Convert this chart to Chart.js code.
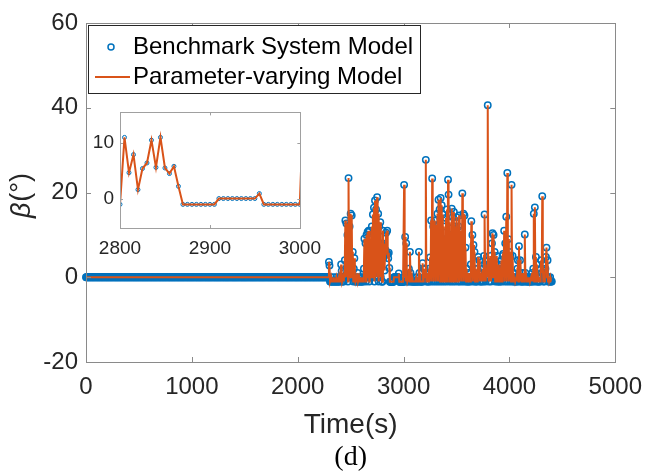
<!DOCTYPE html>
<html>
<head>
<meta charset="utf-8">
<script src="https://cdn.jsdelivr.net/npm/chart.js@4.4.1/dist/chart.umd.min.js"></script>
<style>
  html, body { margin: 0; padding: 0; background: #fff; }
  #wrap { position: relative; width: 653px; height: 472px; }
  #mainChart { position: absolute; left: 0; top: 0; }
  #insetChart { position: absolute; left: 60px; top: 95px; }
</style>
</head>
<body>
<div id="wrap">
  <canvas id="mainChart" width="653" height="472"></canvas>
  <canvas id="insetChart" width="270" height="170"></canvas>
</div>
<script>
// --- Data (beta in degrees, sampled every 5 s) ---

const SAMPLE_STEP = 5;
// quiet stretch at the start: beta stays at 0
const quietRun = [0, 2285, 0]; // [from, to, value]
// active stretch, 20 samples per 100 s block
const activeBlocks = [
  [2290, [0, 3.6]],
  [2300, [2.8, -1, -1, 0, -1, -1, -1, -1, 0, -1, -1, -1, -1, 0, -1, -1, -1, -1, 0, -1]],
  [2400, [-1, 0, 3.0, 1.5, -1, -1, 0, -1, 1, 4, 13.4, 0, 12.7, 1, 10, -1, 23.4, 0, 12, 1]],
  [2500, [15, 0, 14.6, 1, 6, -1, 2, 4.5, 0, -1, -1, 0, -1, 1, -1, -1, 0, -1, -1, 0]],
  [2600, [-1, -1, -1, 0, -1, 2, 9.1, 0, 8, -1, 10, 1, 10.7, 0, 11, -1, 11, 0, 9, 1]],
  [2700, [12, 0, 14.8, 1, 16.4, -1, 18.1, 0, 16, 1, 18.9, 0, 15, -1, 12, 1, 13, 0, 8, -1]],
  [2800, [-1.05, 11, 4.65, 7.9, 1.6, 5.4, 6.4, 10.5, 5.6, 11, 5.5, 4.5, 5.8, 2.2, -1.05, -1.05, -1.05, -1.05, -1.05, -1.05]],
  [2900, [-1.05, -1.05, 0, 0, 0, 0, 0, 0, 0, 0, 0, 0.9, -1.05, -1.05, -1.05, -1.05, -1.05, -1.05, -1.05, -1.05]],
  [3000, [-1.05, 21.8, 0, 9.5, -1, 8, 0, -1, -1, 0, 2, -1, 6, 1, -1, -1, 0, -1, -1, -1]],
  [3100, [-1, -1, -1, -1, 0, -1, -1, -1, -1, 6, 1, -1, -1, -1, -1, -1, 3.3, -1, 2, 0]],
  [3200, [2, 0, 27.7, -1, 1, -1, 0, -1, 2, -1, 4.7, 0, 13.4, -1, 23.3, 0, 12, -1, 13.4, 0]],
  [3300, [11.4, -1, 12.3, 0, 15, -1, 18.3, 1, 16, -1, 18.7, 0, 17, -1, 14.8, 0, 12, -1, 9, 0]],
  [3400, [14, -1, 16, 0, 23, 19.5, -1, 13, 0, 10, -1, 16.2, 0, 14.2, -1, 15.4, 0, 12, -1, 9]],
  [3500, [14.2, 0, 10, -1, 12, 14.6, -1, 11, 0, 8, -1, 19.8, 0, 15, -1, 14.6, 0, 7, -1, 2]],
  [3600, [-1, 0, -1, 1, -1, 0, -1, 3, 13.2, 0, 10, -1, 7.6, 0, 6, -1, 2, -1, 0, -1]],
  [3700, [2, 4.8, 1, 4, -1, 1, -1, 0, -1, 0, 2, -1, 5, 14.8, 3, -1, 1, 0, 2, 40.6]],
  [3800, [1, -1, 3, 0, 5, -1, 2, 8, 10.4, 0, 10, 2, 6, -1, 3, 0, 5, -1, 2, -1]],
  [3900, [3, -1, 0, -1, 2, 4, -1, 5, 5.5, 0, 11, -1, 8, 0, 14.3, -1, 24.6, 0, 9, -1]],
  [4000, [6, 0, 5, -1, 21.8, 0, 5, -1, 1, -1, 0, -1, -1, 0, -1, 2, 4, -1, 7.3, 1]],
  [4100, [4, -1, 0, -1, -1, 1, -1, 0, -1, 10.1, 1, -1, 0, -1, -1, 0, -1, -1, 0, -1]],
  [4200, [-1, 0, -1, 1, -1, 2, 15, -1, 16.5, 0, 4.8, -1, 3, -1, 0, -1, -1, 0, -1, 2]],
  [4300, [4, 1, 19.1, 3, -1, 0, -1, 1, 2, 4.8, 7, 0, 4, -1, 0, -1, -1, 0, -1, -1]],
  [4400, [-1]]
];

const xTicksMain = [0, 1000, 2000, 3000, 4000, 5000];
const yTicksMain = [-20, 0, 20, 40, 60];
const xTicksInset = [2800, 2900, 3000];
const yTicksInset = [0, 10];

const seriesLabels = ['Benchmark System Model', 'Parameter-varying Model'];

// --- Build the point list ---

function buildSeries() {
    const pts = [];
    for (let t = quietRun[0]; t <= quietRun[1]; t += SAMPLE_STEP) pts.push({ x: t, y: quietRun[2] });
    activeBlocks.forEach(([start, vals]) => {
        vals.forEach((v, i) => pts.push({ x: start + i * SAMPLE_STEP, y: v }));
    });
    return pts;
}

const benchmarkBeta = buildSeries();
// the parameter-varying model sits on top of the benchmark everywhere
const modelBeta = benchmarkBeta.map(p => ({ x: p.x, y: p.y }));

const BLUE = '#0072BD';
const ORANGE = '#D95319';
const TEXT = '#262626';
const FONT = '"Liberation Sans", Arial, sans-serif';

// --- Plugins ---

const framePlugin = {
    id: 'frame',
    afterDatasetsDraw(chart, args, opts) {
        const { ctx, chartArea: a, scales: { x, y } } = chart;
        ctx.save();
        ctx.strokeStyle = opts.color;
        ctx.lineWidth = 1;
        ctx.strokeRect(Math.round(a.left) + 0.5, Math.round(a.top) + 0.5,
            Math.round(a.right - a.left), Math.round(a.bottom - a.top));
        ctx.beginPath();
        x.ticks.forEach(t => {
            const px = Math.round(x.getPixelForValue(t.value)) + 0.5;
            ctx.moveTo(px, a.bottom); ctx.lineTo(px, a.bottom - opts.tick);
            ctx.moveTo(px, a.top); ctx.lineTo(px, a.top + opts.tick);
        });
        y.ticks.forEach(t => {
            const py = Math.round(y.getPixelForValue(t.value)) + 0.5;
            ctx.moveTo(a.left, py); ctx.lineTo(a.left + opts.tick, py);
            ctx.moveTo(a.right, py); ctx.lineTo(a.right - opts.tick, py);
        });
        ctx.stroke();
        ctx.restore();
    }
};

const whiteAreaPlugin = {
    id: 'whiteArea',
    beforeDraw(chart) {
        const { ctx, chartArea: a } = chart;
        ctx.save();
        ctx.fillStyle = '#fff';
        ctx.fillRect(a.left, a.top, a.right - a.left, a.bottom - a.top);
        ctx.restore();
    }
};

const decorPlugin = {
    id: 'decor',
    afterDraw(chart) {
        const { ctx, chartArea: a } = chart;
        ctx.save();

        // legend box
        const lx = 88, ly = 25, lw = 332, lh = 68;
        ctx.fillStyle = '#fff';
        ctx.fillRect(lx, ly, lw, lh);
        ctx.strokeStyle = TEXT;
        ctx.lineWidth = 1;
        ctx.strokeRect(lx + 0.5, ly + 0.5, lw, lh);

        ctx.strokeStyle = BLUE;
        ctx.lineWidth = 1.5;
        ctx.beginPath();
        ctx.arc(111, 47, 3, 0, Math.PI * 2);
        ctx.stroke();

        ctx.strokeStyle = ORANGE;
        ctx.lineWidth = 2;
        ctx.beginPath();
        ctx.moveTo(95, 77); ctx.lineTo(130, 77);
        ctx.stroke();

        ctx.fillStyle = '#000';
        ctx.font = '24px ' + FONT;
        ctx.textBaseline = 'middle';
        ctx.textAlign = 'left';
        ctx.fillText(chart.data.datasets[0].label, 133, 47);
        ctx.fillText(chart.data.datasets[1].label, 133, 77);

        // axis titles
        const cx = (a.left + a.right) / 2;
        ctx.fillStyle = TEXT;
        ctx.textAlign = 'center';
        ctx.font = '28px ' + FONT;
        ctx.fillText('Time(s)', cx, 425);
        ctx.fillStyle = '#000';
        ctx.font = '28px "Liberation Serif", "Times New Roman", serif';
        ctx.fillText('(d)', cx, 458);

        // y title: italic beta + (°)
        ctx.fillStyle = TEXT;
        ctx.translate(22, 196);
        ctx.rotate(-Math.PI / 2);
        ctx.textAlign = 'left';
        const f1 = 'italic 27px ' + FONT, f2 = '27px ' + FONT;
        ctx.font = f1; const w1 = ctx.measureText('β').width;
        ctx.font = f2; const w2 = ctx.measureText('(°)').width;
        const x0 = -(w1 + w2) / 2;
        ctx.font = f1; ctx.fillText('β', x0, 0);
        ctx.font = f2; ctx.fillText('(°)', x0 + w1 + 1, 0);

        ctx.restore();
    }
};

// --- Charts ---

function axis(min, max, ticks, fontSize, pad, fit) {
    return {
        type: 'linear',
        min, max,
        afterBuildTicks: s => { s.ticks = ticks.map(v => ({ value: v })); },
        afterFit: fit,
        grid: { display: false, drawTicks: false },
        border: { display: false },
        ticks: {
            color: TEXT, padding: pad, maxRotation: 0,
            font: { family: FONT, size: fontSize },
            callback: v => String(v)
        }
    };
}

function datasets(ptRadius, ptWidth, clip) {
    return [
        {
            label: seriesLabels[0],
            data: benchmarkBeta,
            showLine: false,
            pointStyle: 'circle',
            pointRadius: ptRadius,
            pointBorderWidth: ptWidth,
            pointBorderColor: BLUE,
            pointBackgroundColor: 'rgba(0,0,0,0)',
            clip: clip,
            order: 2
        },
        {
            label: seriesLabels[1],
            data: modelBeta,
            showLine: true,
            borderColor: ORANGE,
            borderWidth: 2,
            pointRadius: 0,
            clip: clip,
            order: 1
        }
    ];
}

const mainChart = new Chart(document.getElementById('mainChart'), {
    type: 'scatter',
    data: { datasets: datasets(3.2, 1.5, 4) },
    options: {
        responsive: false,
        animation: false,
        devicePixelRatio: 1,
        layout: { padding: { top: 23, right: 34, left: 0, bottom: 0 } },
        scales: {
            x: axis(0, 5000, xTicksMain, 24, 11, s => { s.height = 110; }),
            y: axis(-20, 60, yTicksMain, 24, 8, s => { s.width = 86; })
        },
        plugins: {
            legend: { display: false },
            tooltip: { enabled: false },
            frame: { color: '#8a8a8a', tick: 5 }
        }
    },
    plugins: [framePlugin, decorPlugin]
});

const insetData = datasets(2, 1, 0);
insetData[0].data = benchmarkBeta.filter(p => p.x >= 2790 && p.x <= 3010);
insetData[1].data = modelBeta.filter(p => p.x >= 2790 && p.x <= 3010);

const insetChart = new Chart(document.getElementById('insetChart'), {
    type: 'scatter',
    data: { datasets: insetData },
    options: {
        responsive: false,
        animation: false,
        devicePixelRatio: 1,
        layout: { padding: { top: 12, right: 18, left: 0, bottom: 0 } },
        scales: {
            x: axis(2800, 3000.6, xTicksInset, 19, 9, s => { s.height = 37; }),
            y: axis(-5.3, 15.5, yTicksInset, 19, 6, s => { s.width = 60; })
        },
        plugins: {
            legend: { display: false },
            tooltip: { enabled: false },
            frame: { color: '#a0a0a0', tick: 3 }
        }
    },
    plugins: [whiteAreaPlugin, framePlugin]
});
</script>
</body>
</html>
